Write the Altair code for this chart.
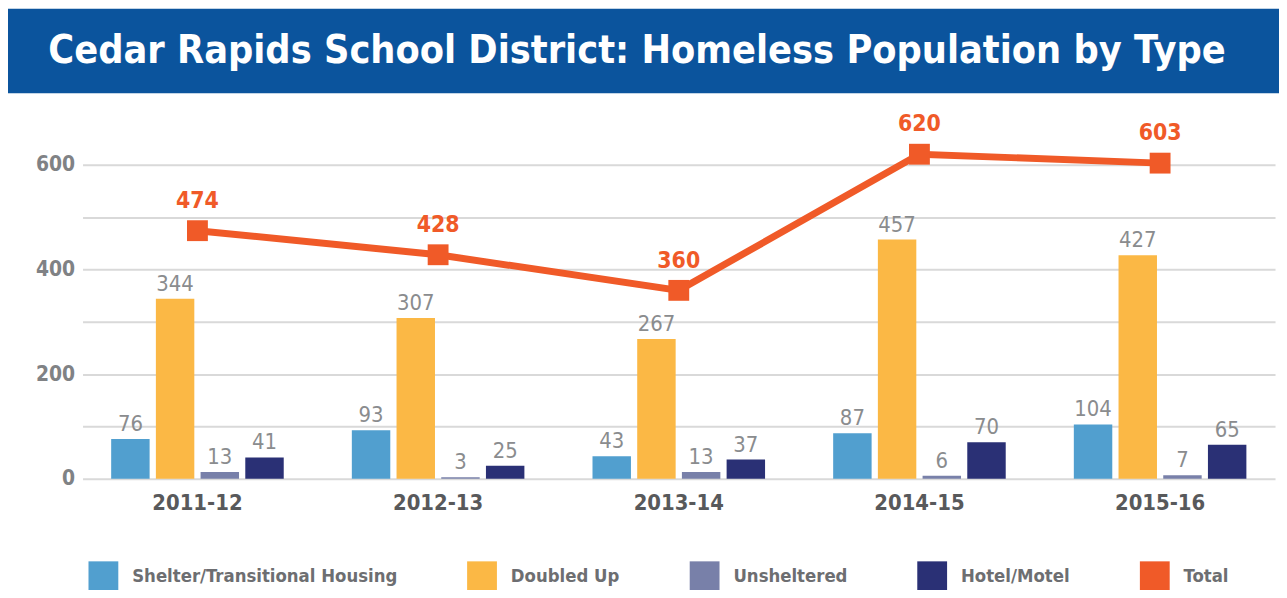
import altair as alt
import pandas as pd

years = ["2011-12", "2012-13", "2013-14", "2014-15", "2015-16"]
types = ["Shelter/Transitional Housing", "Doubled Up", "Unsheltered", "Hotel/Motel"]
shelter = [76, 93, 43, 87, 104]
doubled = [344, 307, 267, 457, 427]
unsheltered = [13, 3, 13, 6, 7]
hotel = [41, 25, 37, 70, 65]
total = [474, 428, 360, 620, 603]
legend_names = types + ["Total"]
colors = ["#519fcf", "#fbb845", "#7880a9", "#2a3075", "#f05a28"]
title_text = "Cedar Rapids School District: Homeless Population by Type"
y_ticks = [0, 100, 200, 300, 400, 500, 600]

rows = []
for i, yr in enumerate(years):
    for t, vals in zip(types, [shelter, doubled, unsheltered, hotel]):
        rows.append({"year": yr, "type": t, "value": vals[i]})
bars_df = pd.DataFrame(rows)
tot_df = pd.DataFrame({"year": years, "total": total})

FONT = "Liberation Sans Narrow, DejaVu Sans Condensed, Arial Narrow, sans-serif"
ORANGE = "#f05a28"

xenc = alt.X("year:N", sort=years,
             scale=alt.Scale(paddingInner=0.283, paddingOuter=0.119),
             axis=alt.Axis(title=None, labelFont=FONT, labelFontSize=22,
                           labelFontWeight="bold", labelColor="#58595b",
                           labelPadding=14, ticks=False, domain=False, labelAngle=0))
yscale = alt.Scale(domain=[0, 706], nice=False)
xoff = alt.XOffset("type:N", sort=types, scale=alt.Scale(paddingInner=0.14))

banner = alt.Chart(alt.Data(values=[{"t": title_text}])).mark_rect(color="#0b549d").encode(
    x=alt.value(-75), x2=alt.value(1204), y=alt.value(-101), y2=alt.value(-16))
banner_text = alt.Chart(alt.Data(values=[{"t": title_text}])).mark_text(
    font=FONT, fontSize=39.5, fontWeight="bold", color="white", baseline="middle", align="center"
).encode(x=alt.value(558), y=alt.value(-58), text="t:N")

bars = alt.Chart(bars_df).mark_bar().encode(
    x=xenc,
    xOffset=xoff,
    y=alt.Y("value:Q", scale=yscale,
            axis=alt.Axis(title=None, values=y_ticks,
                          labelExpr="datum.value % 200 == 0 ? datum.label : ''",
                          labelFont=FONT, labelFontSize=21, labelFontWeight="bold",
                          labelColor="#808285", labelPadding=8, ticks=False, domain=False,
                          gridColor="#d9d9d9", gridWidth=2)),
    color=alt.Color("type:N",
                    scale=alt.Scale(domain=legend_names, range=colors),
                    legend=alt.Legend(title=None, orient="none", legendX=6, legendY=455,
                                      direction="horizontal", columns=5,
                                      symbolType="square", symbolSize=900,
                                      symbolStrokeWidth=0,
                                      labelFont=FONT, labelFontSize=18.5,
                                      labelFontWeight="bold", labelColor="#6d6e71",
                                      labelOffset=14, columnPadding=70, labelLimit=400)),
)
bar_text = alt.Chart(bars_df).mark_text(
    font=FONT, fontSize=22, color="#8a8c8e", baseline="bottom", dy=-3
).encode(x=xenc, xOffset=xoff, y=alt.Y("value:Q", scale=yscale), text="value:Q")

line = alt.Chart(tot_df).mark_line(color=ORANGE, strokeWidth=7).encode(
    x=alt.X("year:N", sort=years), y=alt.Y("total:Q", scale=yscale))
pts = alt.Chart(tot_df).mark_square(color=ORANGE, size=440, opacity=1).encode(
    x=alt.X("year:N", sort=years), y=alt.Y("total:Q", scale=yscale))
tot_text = alt.Chart(tot_df).mark_text(
    font=FONT, fontSize=23, fontWeight="bold", color=ORANGE, baseline="bottom", dy=-18
).encode(x=alt.X("year:N", sort=years), y=alt.Y("total:Q", scale=yscale), text="total:Q")

chart = alt.layer(banner, banner_text, bars, bar_text, line, pts, tot_text).properties(
    width=1200, height=372,
    autosize=alt.AutoSizeParams(type="none"),
    padding={"left": 75, "top": 100, "right": 4, "bottom": 110},
).configure_view(stroke=None)

chart.save("out.html", embed_options={"renderer": "svg", "actions": False})
